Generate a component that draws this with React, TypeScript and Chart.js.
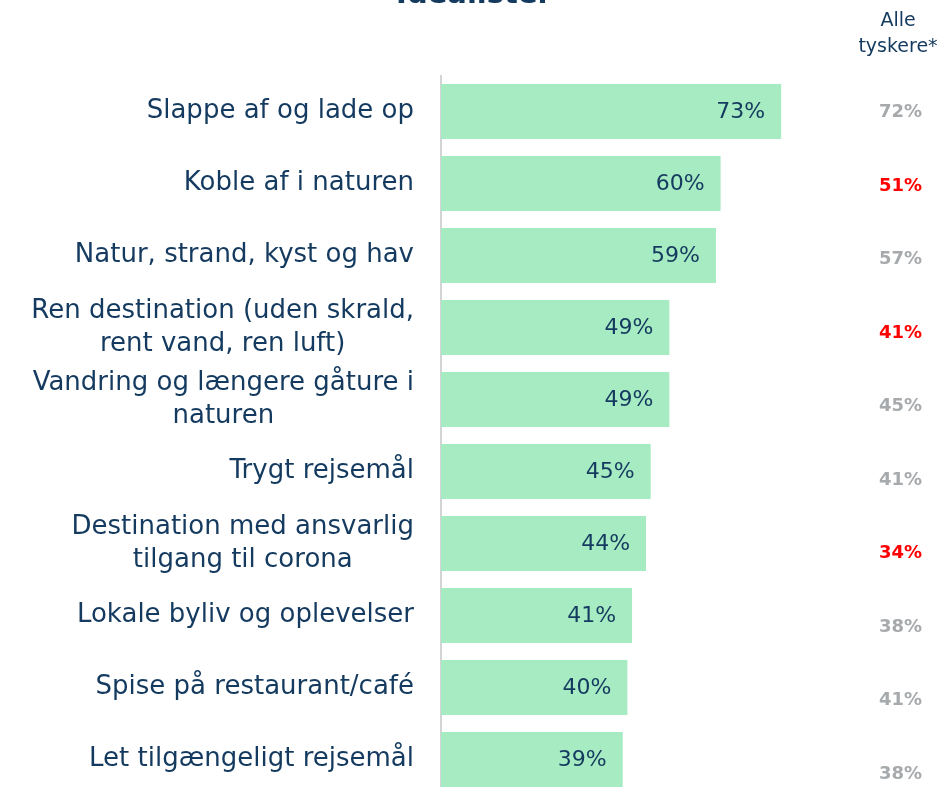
import { useEffect, useRef } from 'react';
import { Chart, registerables } from 'chart.js';

Chart.register(...registerables);

const chartTitle = 'Idealister';
const compareHeader = ['Alle', 'tyskere*'];
const categories: string[][] = [
  ['Slappe af og lade op'],
  ['Koble af i naturen'],
  ['Natur, strand, kyst og hav'],
  ['Ren destination (uden skrald,', 'rent vand, ren luft)'],
  ['Vandring og længere gåture i', 'naturen'],
  ['Trygt rejsemål'],
  ['Destination med ansvarlig', 'tilgang til corona'],
  ['Lokale byliv og oplevelser'],
  ['Spise på restaurant/café'],
  ['Let tilgængeligt rejsemål'],
];
const idealisterValues = [73, 60, 59, 49, 49, 45, 44, 41, 40, 39];
const alleTyskereValues = [72, 51, 57, 41, 45, 41, 34, 38, 41, 38];
const significantDiff = [false, true, false, true, false, false, true, false, false, false];

const NAVY = '#143a5f';
const BAR = '#a6ebc1';
const GREY = '#a7aaac';
const RED = '#ff0000';
const FONT = '"DejaVu Sans", sans-serif';

const textPlugin = {
  id: 'customText',
  afterDatasetsDraw(chart: any) {
    const { ctx, chartArea, scales } = chart;
    const xs = scales.x;
    const ys = scales.y;
    ctx.save();

    // values inside bars
    ctx.font = `22px ${FONT}`;
    ctx.fillStyle = NAVY;
    ctx.textAlign = 'right';
    ctx.textBaseline = 'middle';
    idealisterValues.forEach((v, i) => {
      ctx.fillText(`${v}%`, xs.getPixelForValue(v) - 16, ys.getPixelForValue(i) + 1);
    });

    // category labels (block right aligned, lines centred)
    ctx.font = `26px ${FONT}`;
    const rightEdge = chartArea.left - 27;
    const lineH = 33;
    categories.forEach((lines, i) => {
      const cy = ys.getPixelForValue(i);
      const blockW = Math.max(...lines.map((l) => ctx.measureText(l).width));
      const cx = rightEdge - blockW / 2;
      ctx.textAlign = 'center';
      lines.forEach((l, j) => {
        const y = cy + (j - (lines.length - 1) / 2) * lineH;
        ctx.fillText(l, cx, y);
      });
    });

    // comparison column
    const colRight = chart.width - 21;
    const colCenter = colRight - 24;
    const y0 = ys.getPixelForValue(0);
    const stretch = 73.5 / 72;
    ctx.font = `bold 18px ${FONT}`;
    ctx.textAlign = 'right';
    alleTyskereValues.forEach((v, i) => {
      const y = y0 + (ys.getPixelForValue(i) - y0) * stretch + 1;
      ctx.fillStyle = significantDiff[i] ? RED : GREY;
      ctx.fillText(`${v}%`, colRight, y);
    });

    // header
    ctx.font = `19px ${FONT}`;
    ctx.fillStyle = NAVY;
    ctx.textAlign = 'center';
    compareHeader.forEach((t, j) => {
      ctx.fillText(t, colCenter, 21 + j * 26);
    });

    // title (cut off at top)
    ctx.font = `bold 29px ${FONT}`;
    ctx.textBaseline = 'alphabetic';
    ctx.fillText(chartTitle, 474, 3);

    ctx.restore();
  },
};

export default function App() {
  const ref = useRef<HTMLCanvasElement>(null);
  useEffect(() => {
    if (!ref.current) return;
    const chart = new Chart(ref.current, {
      type: 'bar',
      data: {
        labels: categories.map((c) => c.join(' ')),
        datasets: [
          {
            data: idealisterValues,
            backgroundColor: BAR,
            borderWidth: 0,
            barPercentage: 0.764,
            categoryPercentage: 1,
          },
        ],
      },
      options: {
        indexAxis: 'y',
        responsive: false,
        animation: false,
        layout: { padding: { left: 441, right: 36, top: 75.5, bottom: 4.5 } },
        plugins: {
          legend: { display: false },
          tooltip: { enabled: false },
          title: { display: false },
        },
        scales: {
          x: { display: false, min: 0, max: 100 },
          y: {
            display: true,
            ticks: { display: false },
            grid: { display: false, drawTicks: false },
            border: { display: true, color: '#d4d4d4', width: 2 },
            afterFit: (s: any) => {
              s.width = 0;
            },
          },
        },
      },
      plugins: [textPlugin],
    });
    return () => chart.destroy();
  }, []);
  return (
    <div
      style={{
        position: 'fixed',
        left: 0,
        top: 0,
        width: 943,
        height: 787,
        overflow: 'hidden',
        background: '#fff',
      }}
    >
      <canvas ref={ref} width={943} height={800} style={{ display: 'block' }} />
    </div>
  );
}
